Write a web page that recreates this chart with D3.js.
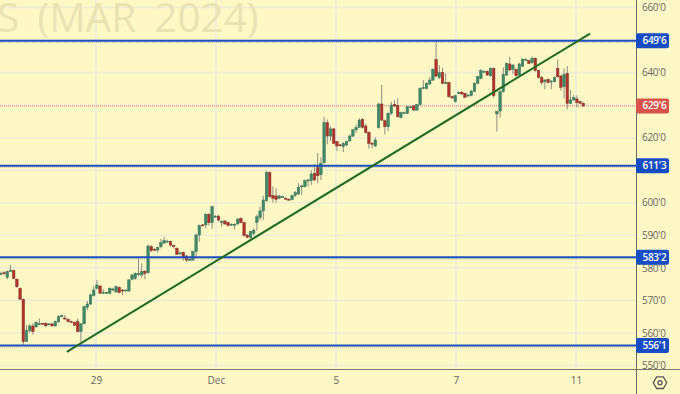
<!DOCTYPE html>
<html>
<head>
<meta charset="utf-8">
<script src="https://cdnjs.cloudflare.com/ajax/libs/d3/7.8.5/d3.min.js"></script>
<style>
  html, body { margin: 0; padding: 0; background: #fff8c4; }
  svg { display: block; }
  text { font-family: "Open Sans", sans-serif; }
</style>
</head>
<body>
<div id="chartDiv"></div>
<script>
// candles (price units)
const opens = [578.1,578.5,577.1,579.1,579.2,576.5,573.7,570.35,557.4,560.7,562.15,561.9,562.8,562.9,563,562.7,562.8,562.15,563.4,565.2,564.6,564.2,563.5,563.2,563.5,560.4,562.8,567.9,568.9,571.5,573.7,574.4,572.4,572.4,572.2,573.4,572.6,574,573.2,573.1,572.9,576.5,576.8,578.2,577.8,579,578.5,586.5,585.7,585.5,586.5,587.6,588.1,588.06,586.9,586,584.5,584.8,583.65,582.6,582.4,585,590.1,593.2,593.2,596.45,593.9,595.8,595.9,594.2,594.4,593.9,593.4,593.4,593.5,595.2,593.9,590.1,589.3,590.6,594,595.5,597.5,600.65,609.25,602.2,602.1,601.4,601.9,601.4,601.1,601,602.3,602.7,605.1,604.95,607,606.8,609.05,611.1,608.65,612.3,624.6,620.5,622.7,618.8,617.8,617.25,617.75,619,620.5,622.4,623.2,625.6,623.6,621.65,618.3,617.45,623.1,630.35,625.2,623.4,627.5,630.2,629.95,626.25,627.7,627.5,629.5,629.75,628.5,630.15,635.3,635.15,636.5,637.7,644.05,638.5,640,636.9,636.9,632.6,631.05,633.8,634,633.6,632.9,633,634.25,636.7,638.2,640.4,640.4,639.05,641.3,627.3,628.2,634.15,639.25,642.65,641,641,639.25,642,644.1,643.65,643.05,644.4,640.6,638.45,637.2,637.9,637.4,637.2,641.3,638.95,635.65,639.8,630.55,631.6,631.9,631.05,630.55];
const highs = [578.85,579,579.2,580.9,579.4,576.8,574,570.6,562.5,562.7,563,563.6,564.5,563.1,563.2,563,563,563.8,565.4,565.7,565.6,564.5,563.8,563.4,564.5,563,568.4,569.8,572,574.4,576.3,574.7,573.4,572.7,574,573.8,574.6,574.3,573.5,573.4,576.6,578.2,578.6,583.2,581.4,579.2,587.2,587,586,586.5,588.9,589.5,588.7,588.4,587.2,586.3,585,585,584,583,585.3,590.6,593.3,593.4,596.8,596.8,599.1,596.2,596.3,594.7,594.7,594.2,593.7,593.7,595.3,595.5,594.2,590.3,591.4,592.2,596.4,598.8,602.2,609.8,609.6,605,604.5,602.4,602.2,601.7,601.3,602.4,603.6,606,605.5,607.2,607.4,610,612,615.3,614,626.45,625.6,623.5,623,619,618.1,618.6,619.1,621,622.7,624,626,626,624.3,622,618.6,620.1,630.7,636.2,625.6,627.8,631.1,631.5,632.1,628,628,629.8,629.8,630,630.4,635.5,637.7,637,638.7,641.4,649.5,642.3,641.5,639.8,637.2,632.9,633.2,634.2,634.3,633.9,633.4,634.6,637,639,641.1,640.7,640.7,641.6,641.6,628.3,634.5,641.6,643.1,644.9,642.6,641.3,643,644.4,644.4,644,645,644.7,640.9,639,638,638.2,637.7,638.8,644.05,639.3,641.3,642,634.65,633.1,633,631.4,630.9];
const lows = [577.7,577.7,576.5,578.8,576.5,573.8,570.2,556.3,557.2,560,559.5,561.5,562.4,562.6,562,562.4,562,562,563.2,564.8,564,563.2,563.2,562.2,560.2,557.3,562.6,567,568.6,571.2,573.4,572,572,572.1,571.9,572.8,572.3,572.1,571.6,572.8,572.6,576.2,576.3,577.5,577,576.5,578.2,584.8,585.3,584.6,586,587.4,587.8,586.5,585.9,584,584,582.2,581.8,582.2,582.2,583,588,592.8,592.2,593,592,595.4,594.2,592.6,593.2,592.7,593,591.8,593.2,593.7,589.6,589.1,589,589.9,591.4,594.6,594.7,600.3,601.6,600,600,601.1,601.6,601,600.7,600.7,601.8,602.4,602.4,604.7,605,605.5,606.8,606,607,612,618,619,618,616,617.4,615.6,617.4,618.8,620.2,621.4,623,622.8,621.3,616.7,616.7,617.1,622.8,625.1,621,622,627,629.4,626.1,625.9,627.4,627.2,629.2,628.2,628.2,629.9,635,634.8,636.2,637.4,638.6,638,636.4,636.6,632.3,632,630.8,633.5,633.7,632.2,632.7,632.7,634,636.4,637.9,640.1,639,638.7,632.2,621.85,626.15,633.9,639,640.5,639.5,638.7,639,641.7,643.8,642.6,642.7,640.3,638.2,636.2,634.85,636.6,634.85,636.9,638.4,634.45,632,628.7,630.3,631.3,629.3,630.3,629.5];
const closes = [578.3,578.2,578.85,579.2,576.8,574.2,570.35,557.3,560.7,562.15,560.4,563.2,562.9,562.85,562.15,562.8,562.15,563.5,565,565.3,564.5,563.5,563.4,562.4,560.4,562.8,568.1,568.9,571.7,573.2,574.75,572.2,572.5,572.4,573.7,573.5,574.2,572.4,573.1,573.2,576.3,577.8,578.3,578.3,578.85,578.3,586.7,585.3,585.6,586.3,587.75,588.4,588.2,587,586.8,584.15,584.6,583.25,582.4,582.6,585,590.1,593,593,596.45,593.9,598.8,595.9,594.7,594.2,593.5,593,593.4,593.4,595,593.9,589.9,589.4,591.1,591.6,595.7,597.5,600.85,609.25,601.9,601.4,601.05,602.1,601.9,601.3,601,602.2,603.1,604.75,605.2,606.8,607,608.85,607,608.3,612.1,624.6,620.5,622.7,618.25,617.45,617.7,618.25,618.8,620.5,622.4,623.1,625.4,623.2,621.6,618.25,618.2,619.3,630.35,625.4,623.4,627.5,630,629.7,626.45,627.7,627.7,629.5,629.5,628.5,630.15,635.15,635.4,636.7,637.7,641,638.95,640,636.7,636.9,632.6,632.2,632.9,633.9,633.4,632.4,633.1,634.35,636.7,638.75,640.6,640.4,639.25,641.3,632.9,628,634.15,639.5,642.8,640.8,642.3,639.05,642.65,644.05,644.1,642.85,644.4,640.6,638.55,636.9,637.7,637,637.4,638.45,638.75,635.5,639.5,630.55,631.6,632.3,630.75,630.55,629.75];

const gridPrices = [550,560,570,580,590,600,610,620,630,640,650,660];
const tickPrices = [550,560,570,580,590,600,620,640,660];
const levels = [649.75,611.375,583.25,556.125];
const levelLabels = ["649'6","611'3","583'2","556'1"];
const lastPrice = 629.75;
const lastLabel = "629'6";
const dateLabels = ["29","Dec","5","7","11"];
const dateIndex = [29.7,67.2,104.7,142.2,179.7];
const trendIndex = [20.6,184.1];
const trendPrice = [554.2,652];
const watermark = "S (MAR 2024)";

const width = 680, height = 394;
const plotRight = 636, plotBottom = 369;

const svg = d3.select("#chartDiv").append("svg")
  .attr("width", width)
  .attr("height", height)
  .style("background", "#fff8c4");

const x = d3.scaleLinear().domain([0, opens.length - 1]).range([0.9, 583.3]);
const y = d3.scaleLinear().domain([550, 660]).range([365.5, 7.5]);

svg.append("clipPath").attr("id", "plot").append("rect")
  .attr("width", plotRight).attr("height", plotBottom);

const plot = svg.append("g").attr("clip-path", "url(#plot)");

// grid
plot.append("g").selectAll("line").data(gridPrices).join("line")
  .attr("x1", 0).attr("x2", plotRight)
  .attr("y1", d => y(d)).attr("y2", d => y(d))
  .attr("stroke", "#ecebd8").attr("stroke-width", 1.5);
plot.append("g").selectAll("line").data(dateIndex).join("line")
  .attr("x1", d => x(d)).attr("x2", d => x(d))
  .attr("y1", 0).attr("y2", plotBottom)
  .attr("stroke", "#e8e9e0").attr("stroke-width", 1.5);

plot.append("text")
  .attr("x", -3).attr("y", 32)
  .attr("font-size", 40.5)
  .attr("word-spacing", 7.5)
  .attr("fill", "#e9e3b4")
  .text(watermark);

// last price dotted line
plot.append("line")
  .attr("x1", 0).attr("x2", plotRight)
  .attr("y1", y(lastPrice)).attr("y2", y(lastPrice))
  .attr("stroke", "#e2705f").attr("stroke-dasharray", "1,1");

// candles
const candles = plot.append("g").selectAll("g").data(d3.range(opens.length)).join("g");
candles.append("line")
  .attr("x1", i => x(i)).attr("x2", i => x(i))
  .attr("y1", i => y(highs[i])).attr("y2", i => y(lows[i]))
  .attr("stroke", "#8d8d84");
candles.append("rect")
  .attr("x", i => x(i) - 1.25)
  .attr("width", 2.5)
  .attr("y", i => y(Math.max(opens[i], closes[i])))
  .attr("height", i => Math.max(1, Math.abs(y(opens[i]) - y(closes[i]))))
  .attr("fill", i => closes[i] >= opens[i] ? "#3f8a66" : "#b4322a")
  .attr("stroke", i => closes[i] >= opens[i] ? "#35705a" : "#7d3028")
  .attr("stroke-width", 0.5);

// horizontal levels, with the faint dotted price line just under them
plot.append("g").selectAll("line").data(levels).join("line")
  .attr("x1", 0).attr("x2", plotRight)
  .attr("y1", d => y(d) + 1.5).attr("y2", d => y(d) + 1.5)
  .attr("stroke", "#9a9c98").attr("stroke-dasharray", "1,1").attr("opacity", 0.7);
plot.append("g").selectAll("line").data(levels).join("line")
  .attr("x1", 0).attr("x2", plotRight)
  .attr("y1", d => y(d)).attr("y2", d => y(d))
  .attr("stroke", "#1d4fc0").attr("stroke-width", 2);

// trend line
plot.append("line")
  .attr("x1", x(trendIndex[0])).attr("x2", x(trendIndex[1]))
  .attr("y1", y(trendPrice[0])).attr("y2", y(trendPrice[1]))
  .attr("stroke", "#1f6b24").attr("stroke-width", 2);

// axes
const axisRight = d3.axisRight(y).tickValues(tickPrices).tickSize(0).tickPadding(6)
  .tickFormat(d => d + "'0");
const gy = svg.append("g").attr("transform", `translate(${plotRight},0)`).call(axisRight);
gy.selectAll("text").attr("fill", "#666").attr("font-size", 10).attr("letter-spacing", -0.3);
gy.select(".domain").remove();

const axisBottom = d3.axisBottom(x).tickValues(dateIndex).tickSize(0).tickPadding(8)
  .tickFormat((d, i) => dateLabels[i]);
const gx = svg.append("g").attr("transform", `translate(0,${plotBottom})`).call(axisBottom);
gx.selectAll("text").attr("fill", "#666").attr("font-size", 10);
gx.select(".domain").remove();

svg.append("line").attr("x1", 0).attr("x2", width).attr("y1", plotBottom + 0.5).attr("y2", plotBottom + 0.5)
  .attr("stroke", "#77776c");
svg.append("line").attr("x1", plotRight + 0.5).attr("x2", plotRight + 0.5).attr("y1", 0).attr("y2", height)
  .attr("stroke", "#6b6b60");

// price labels
function priceLabel(value, label, fill) {
  const g = svg.append("g").attr("transform", `translate(${plotRight},${y(value)})`);
  g.append("rect").attr("x", 0).attr("y", -7.5).attr("width", 33).attr("height", 15)
    .attr("rx", 2).attr("fill", fill);
  g.append("text").attr("x", 6.5).attr("dy", "0.35em")
    .attr("fill", "#fff").attr("font-size", 10).attr("font-weight", 600)
    .attr("letter-spacing", -0.3).text(label);
}
levels.forEach((d, i) => priceLabel(d, levelLabels[i], "#164cc4"));
priceLabel(lastPrice, lastLabel, "#d9534a");

// settings icon
const icon = svg.append("g").attr("transform", "translate(660,382.7)");
icon.append("path")
  .attr("d", d3.line()(d3.range(6).map(k => [6.7 * Math.cos(k * Math.PI / 3), 6.7 * Math.sin(k * Math.PI / 3)])) + "Z")
  .attr("fill", "none").attr("stroke", "#555").attr("stroke-width", 1.3);
icon.append("circle").attr("r", 2).attr("fill", "none").attr("stroke", "#555").attr("stroke-width", 1.3);
</script>
</body>
</html>
